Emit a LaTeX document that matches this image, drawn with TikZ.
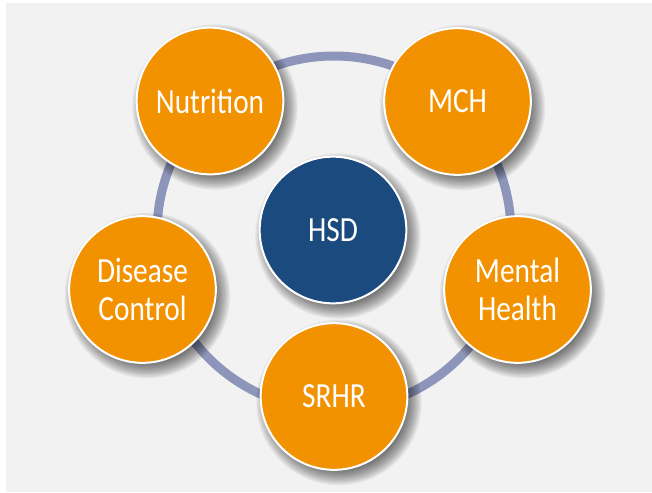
\documentclass[tikz,border=0pt]{standalone}
\usepackage{fontspec}
\setmainfont[FakeStretch=0.83]{Carlito}
\usetikzlibrary{backgrounds}
\definecolor{petalorange}{HTML}{F39200}
\definecolor{hubblue}{HTML}{1B4A7E}
\definecolor{ringblue}{HTML}{8D96BA}
\definecolor{panelgray}{HTML}{F2F2F2}

\begin{document}
\begin{tikzpicture}[x=0.75pt,y=-0.75pt]
\tikzset{bubble/.style={circle,draw=white,line width=1.5pt,minimum size=110pt,inner sep=0pt,text=white,align=center,font=\fontsize{26.5}{28.5}\selectfont},
  petal/.style={bubble,fill=petalorange},
  hub/.style={bubble,fill=hubblue}}
\useasboundingbox (0,0) rectangle (652,492);
\node[hub] (hsd) at (333,230) {HSD};
\node[petal] (nutrition) at (210,101) {Nutrition};
\node[petal] (mch) at (457.5,101.5) {MCH};
\node[petal] (mental) at (517.5,289.5) {Mental\\Health};
\node[petal] (srhr) at (334,396.5) {SRHR};
\node[petal] (disease) at (142.5,289.5) {Disease\\Control};
\begin{scope}[on background layer]
\fill[panelgray] (6,3) rectangle (652,492);
\draw[ringblue,line width=6.75pt] (334,233) circle[radius=132.75pt];
% soft shadows
\foreach \n in {hsd,nutrition,mch,mental,srhr,disease}
  \foreach \k in {0,...,11}
    \fill[black,opacity=0.055] ([shift={(5,6)}]\n.center) circle[radius=51pt+\k*1pt];
\end{scope}
\end{tikzpicture}
\end{document}
